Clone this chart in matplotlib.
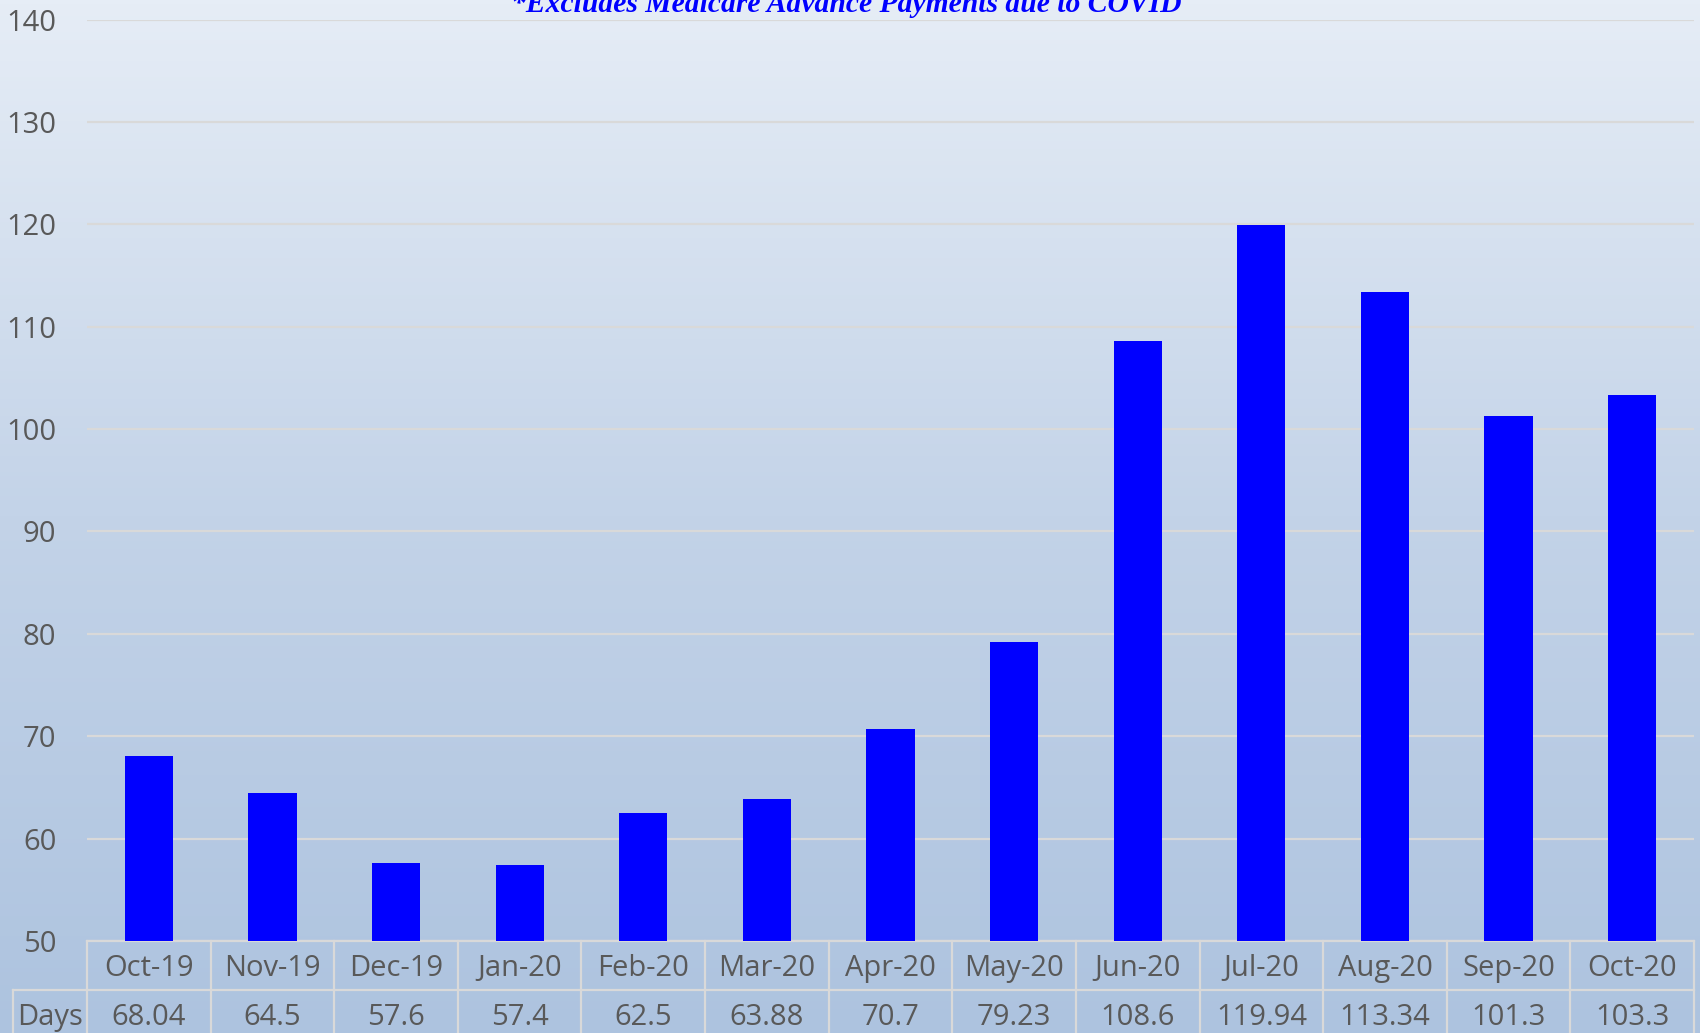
import numpy as np
import matplotlib.pyplot as plt
import matplotlib.transforms as mtransforms
from matplotlib.colors import LinearSegmentedColormap

months = ["Oct-19", "Nov-19", "Dec-19", "Jan-20", "Feb-20", "Mar-20", "Apr-20",
          "May-20", "Jun-20", "Jul-20", "Aug-20", "Sep-20", "Oct-20"]
days = [68.04, 64.5, 57.6, 57.4, 62.5, 63.88, 70.7, 79.23, 108.6, 119.94, 113.34, 101.3, 103.3]
day_labels = ["68.04", "64.5", "57.6", "57.4", "62.5", "63.88", "70.7",
              "79.23", "108.6", "119.94", "113.34", "101.3", "103.3"]
yticks = list(range(50, 141, 10))
row_label = "Days"
note = "*Excludes Medicare Advance Payments due to COVID"

text_color = "#595959"
line_color = "#d9d9d9"
font = ["Open Sans", "DejaVu Sans"]

fig = plt.figure(figsize=(17, 10.33), dpi=100)

# background gradient over the whole figure
bg = fig.add_axes([0, 0, 1, 1], zorder=-10)
cmap = LinearSegmentedColormap.from_list("bg", ["#e6edf6", "#c3d3e8", "#adc3df"])
grad = np.linspace(0, 1, 256).reshape(-1, 1)
bg.imshow(grad, aspect="auto", cmap=cmap, extent=[0, 1, 0, 1], origin="upper")
bg.axis("off")

ax = fig.add_axes([87 / 1700, 1 - 941 / 1033, 1607 / 1700, 921.5 / 1033])
ax.patch.set_alpha(0)
x = np.arange(len(months))
ax.bar(x, days, width=0.39, color="#0000ff", zorder=3)

ax.set_xlim(-0.5, len(months) - 0.5)
ax.set_ylim(50, 140)
ax.set_yticks(yticks)
ax.set_yticklabels([str(v) for v in yticks], fontsize=21, color=text_color, family=font)
ax.tick_params(axis="y", length=0, pad=22)
ax.set_xticks([])
ax.grid(axis="y", color=line_color, linewidth=1.6, zorder=0)
for s in ax.spines.values():
    s.set_visible(False)

# data table under the axis
trans = mtransforms.blended_transform_factory(ax.transData, ax.transAxes)
h = 48.5 / 921.5
off = 3.5 / 921.5  # text sits slightly low in its cell
left_edge = -1.1
kw = dict(color=line_color, linewidth=1.6, transform=trans, clip_on=False)
ax.plot([-0.5, len(months) - 0.5], [0, 0], **kw)
ax.plot([left_edge, len(months) - 0.5], [-h, -h], **kw)
ax.plot([left_edge, len(months) - 0.5], [-2 * h, -2 * h], **kw)
for b in np.arange(len(months) + 1) - 0.5:
    ax.plot([b, b], [0, -2 * h], **kw)
ax.plot([left_edge, left_edge], [-h, -2 * h], **kw)

for i, (m, d) in enumerate(zip(months, day_labels)):
    ax.text(i, -h / 2 - off, m, transform=trans, ha="center", va="center",
            fontsize=21, color=text_color, family=font, clip_on=False)
    ax.text(i, -1.5 * h - off, d, transform=trans, ha="center", va="center",
            fontsize=21, color=text_color, family=font, clip_on=False)
ax.text((left_edge - 0.5) / 2, -1.5 * h - off, row_label, transform=trans, ha="center",
        va="center", fontsize=21, color=text_color, family=font, clip_on=False)

fig.text(846 / 1700, 1 - 12 / 1033, note, ha="center", va="baseline",
         fontsize=21.3, color="#0000ff", family="Liberation Serif",
         weight="bold", style="italic")

fig.savefig("out.png", dpi=100)
